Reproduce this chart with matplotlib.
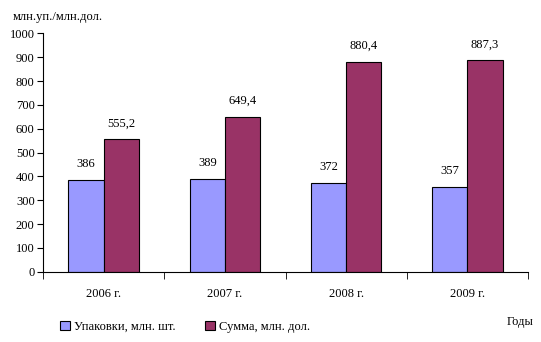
import numpy as np
import matplotlib.pyplot as plt

plt.rcParams['font.family'] = ['Liberation Serif', 'DejaVu Serif']

years = ["2006 г.", "2007 г.", "2008 г.", "2009 г."]
packs = [386, 389, 372, 357]
summa = [555.2, 649.4, 880.4, 887.3]
packs_lbl = ["386", "389", "372", "357"]
summa_lbl = ["555,2", "649,4", "880,4", "887,3"]

fig = plt.figure(figsize=(5.41, 3.42), dpi=100)
ax = fig.add_axes([0.0795, 0.2055, 0.8965, 0.697])

x = np.arange(len(years))
w = 0.29
b1 = ax.bar(x - w / 2, packs, w, color="#9999FF", edgecolor="black", linewidth=0.8,
            label="Упаковки, млн. шт.")
b2 = ax.bar(x + w / 2, summa, w, color="#993366", edgecolor="black", linewidth=0.8,
            label="Сумма, млн. дол.")

for r, t in zip(b1, packs_lbl):
    ax.annotate(t, (r.get_x() + r.get_width() / 2, r.get_height()), xytext=(0, 7),
                textcoords="offset points", ha="center", va="bottom", fontsize=9)
for r, t in zip(b2, summa_lbl):
    ax.annotate(t, (r.get_x() + r.get_width() / 2, r.get_height()), xytext=(0, 7),
                textcoords="offset points", ha="center", va="bottom", fontsize=9)

ax.set_xlim(-0.5, 3.5)
ax.set_ylim(0, 1000)
ax.set_yticks(range(0, 1001, 100))
ax.set_xticks(x)
ax.set_xticklabels(years, fontsize=9)
ax.set_xticks(np.arange(-0.5, 3.6, 1), minor=True)
ax.tick_params(axis="x", which="major", length=0, pad=12)
ax.tick_params(axis="x", which="minor", length=5, direction="out")
ax.tick_params(axis="y", length=4, direction="out", labelsize=9, pad=2)
for s in ["top", "right"]:
    ax.spines[s].set_visible(False)

fig.text(0.024, 0.95, "млн.уп./млн.дол.", fontsize=9, va="center")
fig.text(0.986, 0.058, "Годы", fontsize=9, ha="right", va="center")
fig.legend(loc="center left", bbox_to_anchor=(0.09, 0.045), ncol=2, frameon=False,
           fontsize=9, handlelength=0.8, handleheight=0.8, handletextpad=0.3,
           columnspacing=2.4)

fig.savefig("out.png", dpi=100)
